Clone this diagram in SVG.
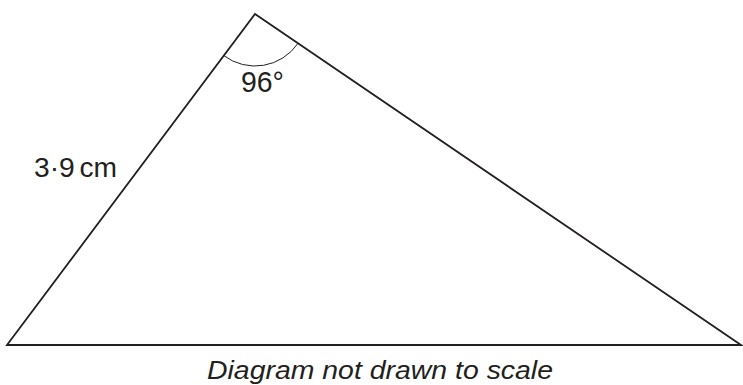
<svg xmlns="http://www.w3.org/2000/svg" width="743" height="385" viewBox="0 0 743 385">
<style>
.edge{fill:none;stroke:#231f20;stroke-width:1.8;stroke-linejoin:miter}
.arc{fill:none;stroke:#231f20;stroke-width:1}
.lbl{font-family:"Liberation Sans",Arial,sans-serif;fill:#231f20}
</style>
<rect width="743" height="385" fill="#ffffff"/>
<g id="connectors">
<polygon class="edge" points="7,345 255,14 741,345"/>
<path class="arc" d="M223.8,55.6 A52,52 0 0 0 298,43.3"/>
</g>
<g id="angle-label"><text class="lbl" x="241" y="92" font-size="30" textLength="43" lengthAdjust="spacingAndGlyphs">96°</text></g>
<g id="side-label"><text class="lbl" x="34" y="177" font-size="27" textLength="83" lengthAdjust="spacingAndGlyphs" word-spacing="-3">3·9 cm</text></g>
<g id="caption"><text class="lbl" x="207" y="379" font-size="26" font-style="italic" textLength="346" lengthAdjust="spacingAndGlyphs">Diagram not drawn to scale</text></g>
</svg>
